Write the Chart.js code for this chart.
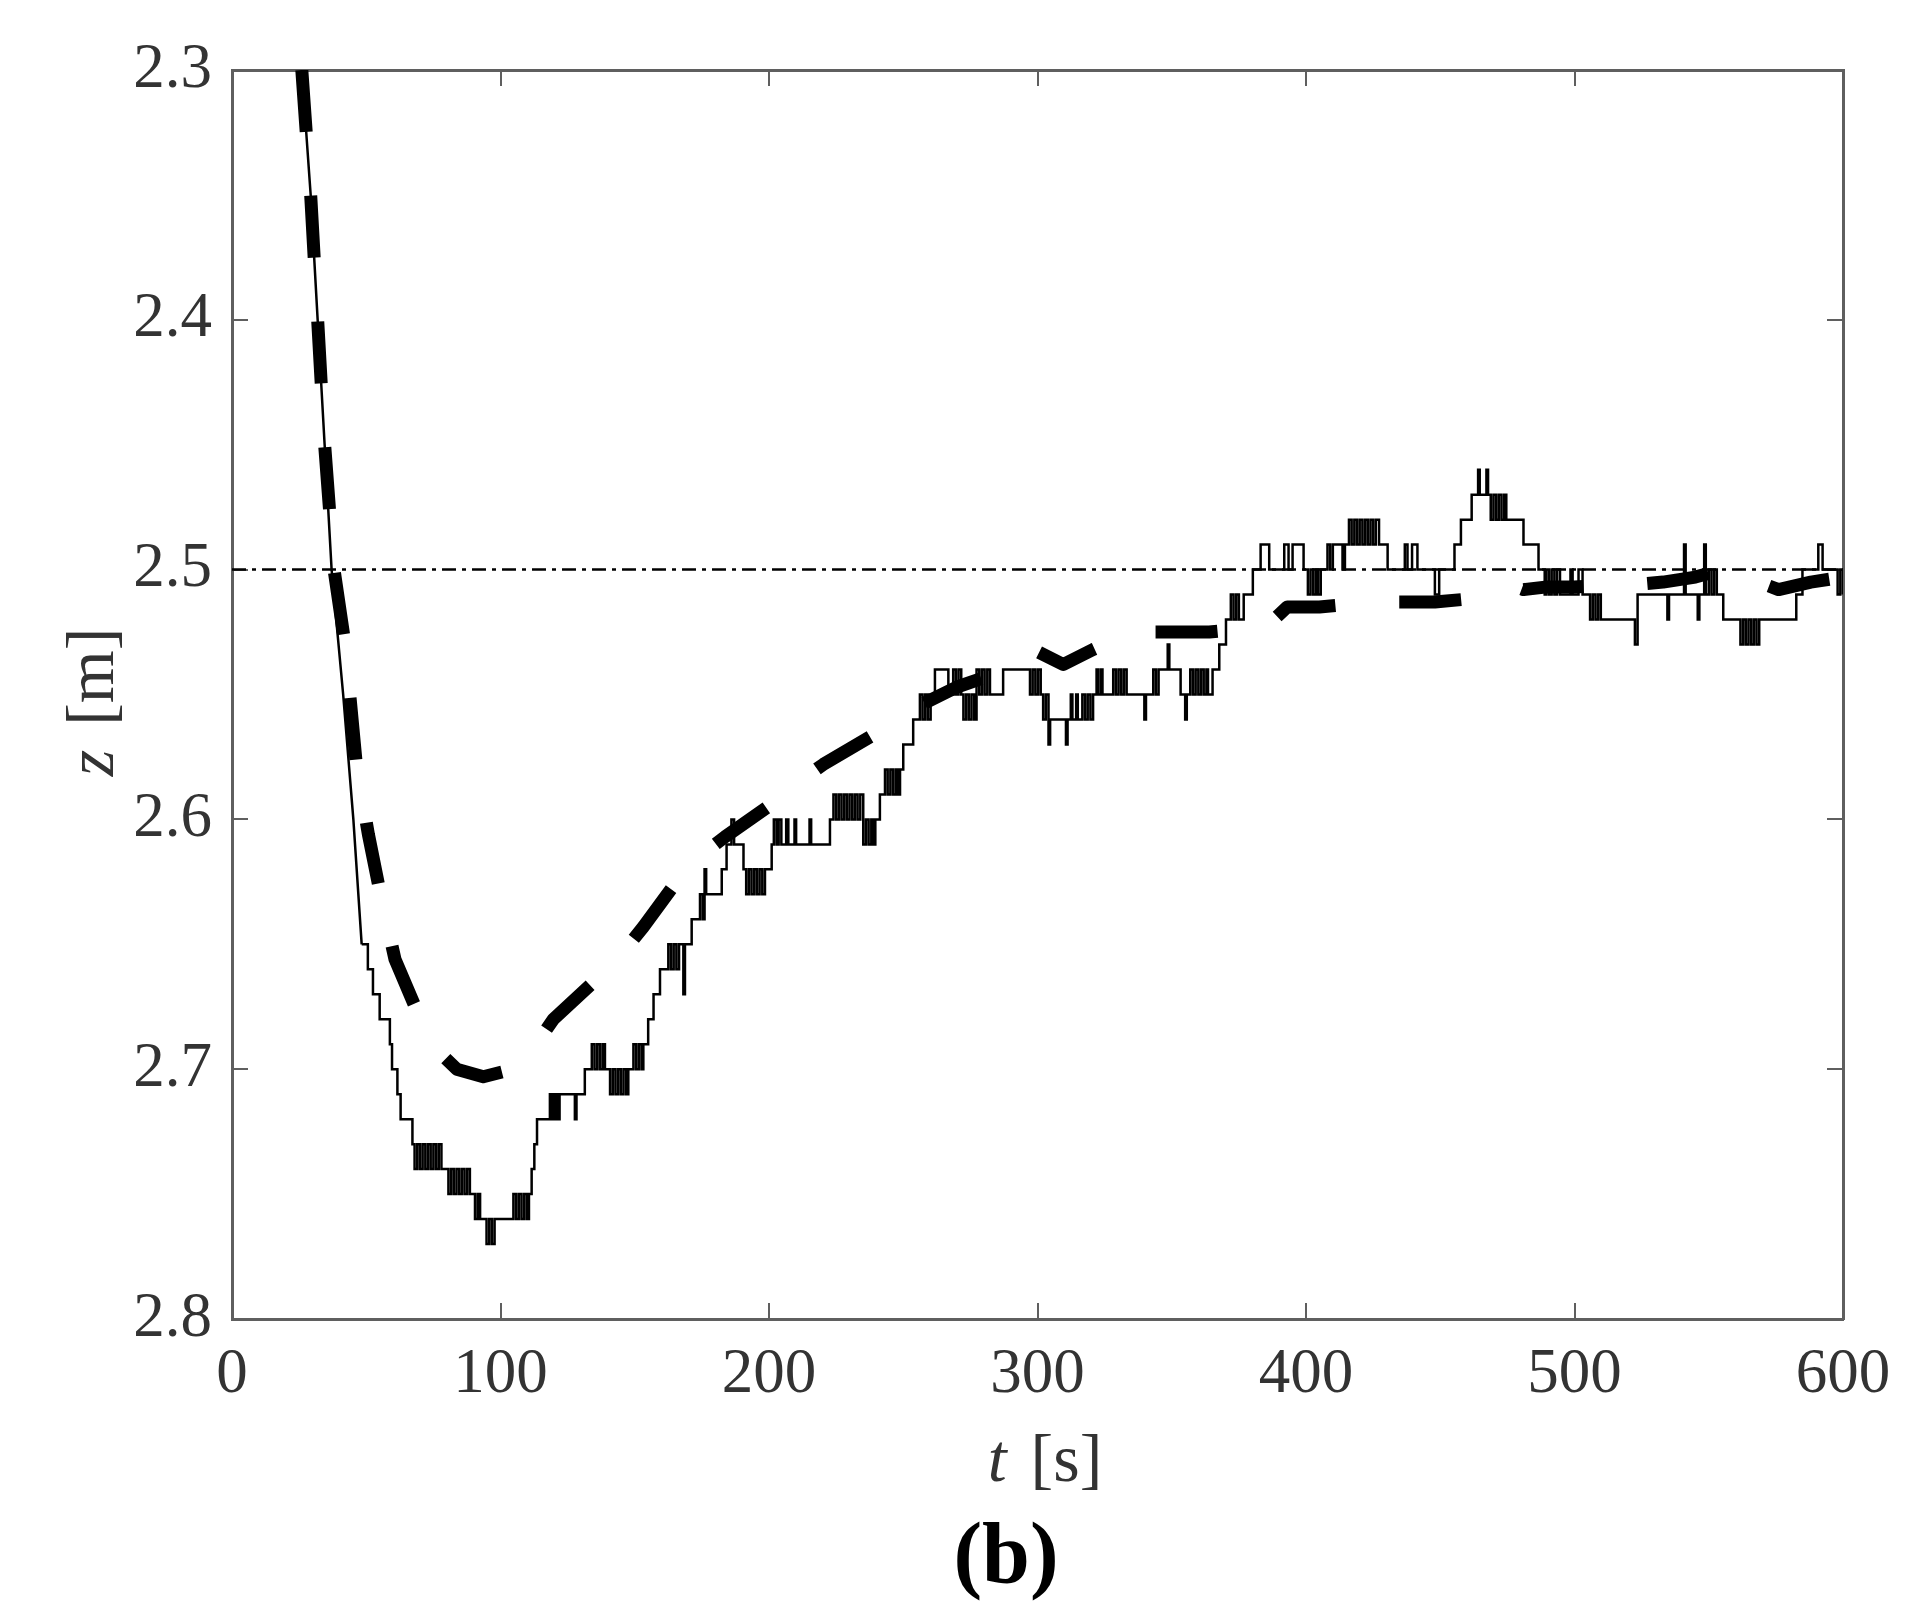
<!DOCTYPE html>
<html>
<head>
<meta charset="utf-8">
<title>z(t)</title>
<script src="https://cdn.jsdelivr.net/npm/chart.js@4.4.1/dist/chart.umd.min.js"></script>
<style>
  body { margin: 0; background: #fff; }
  #wrap { position: relative; width: 1925px; height: 1624px; font-family: "Liberation Serif", "DejaVu Serif", serif; color: #333; }
  #wrap canvas { position: absolute; left: 0; top: 0; }
  .lbl { position: absolute; white-space: nowrap; line-height: 1; }
  #xTitle { left: 945px; top: 1424px; width: 200px; text-align: center; font-size: 68px; }
  #yTitle { left: -10px; top: 668px; width: 200px; text-align: center; font-size: 68px; transform: rotate(-90deg); }
  #caption { left: 906px; top: 1510px; width: 200px; text-align: center; font-size: 86px; font-weight: bold; color: #000; }
  .gap { margin-left: 24px; }
</style>
</head>
<body>
<div id="wrap">
  <canvas id="chart" width="1925" height="1624"></canvas>
  <div class="lbl" id="xTitle"><i>t</i><span class="gap">[s]</span></div>
  <div class="lbl" id="yTitle"><i>z</i><span class="gap">[m]</span></div>
  <div class="lbl" id="caption">(b)</div>
</div>
<script>
// axis ticks
const xTicks = [0, 100, 200, 300, 400, 500, 600];
const yTicks = [2.3, 2.4, 2.5, 2.6, 2.7, 2.8];

// set point (dash-dot line)
const refZ = 2.5;

// measured depth, first fast descent
const descentT = [26.0, 29.3, 31.9, 34.5, 37.1, 41.4, 45.2, 48.3];
const descentZ = [2.30, 2.35, 2.40, 2.45, 2.50, 2.55, 2.60, 2.65];

// measured depth after that, quantized to 1 cm (value holds until next time)
const stepT = [
  48.3, 50.6, 52.5, 55.0, 58.8, 59.6, 61.6, 62.8, 67.2,
  68.0, 69.0, 70.0, 71.0, 72.0, 73.0, 74.0, 75.0, 76.0, 77.0, 78.0,
  80.6, 81.6, 82.6, 83.6, 84.6, 85.6, 86.6, 87.6, 88.6,
  90.5, 91.5, 92.4, 94.8, 95.8, 96.8, 97.8,
  104.8, 105.8, 106.8, 107.8, 108.8, 109.8, 110.6, 111.6, 112.6, 113.6,
  118.4, 119.3, 120.2, 121.1, 122.0, 127.7, 128.3, 131.4,
  134.0, 135.0, 136.0, 137.0, 138.0, 138.9,
  140.8, 141.8, 142.8, 143.8, 144.8, 145.8, 146.8, 147.6,
  149.5, 150.5, 151.5, 152.5, 153.2, 155.0, 157.0, 159.4,
  162.5, 163.5, 164.5, 165.5, 166.5, 168.1, 168.7, 171.2,
  174.3, 175.3, 176.0, 176.6, 182.4, 184.2, 186.0, 187.0,
  190.5, 191.5, 192.5, 193.5, 194.5, 195.5, 196.5, 197.5, 198.5,
  201.0, 201.8, 202.8, 203.6, 204.6, 206.4, 207.2, 209.5, 210.1, 215.1, 215.7,
  222.7, 224.0, 225.0, 226.0, 227.0, 228.0, 229.0, 230.0, 231.0, 232.0, 233.0, 234.0,
  235.1, 236.1, 237.1, 238.1, 239.0, 239.6, 241.3,
  243.2, 244.2, 245.2, 246.2, 247.2, 248.0, 248.8, 250.0, 253.7,
  256.2, 257.2, 258.2, 259.2, 260.2, 261.8, 266.8,
  268.6, 269.6, 270.6, 271.6, 272.4, 273.4, 274.4, 275.4, 276.4,
  277.3, 278.3, 279.3, 280.3, 281.3, 282.3, 287.2,
  297.2, 298.2, 299.2, 300.2, 301.2, 302.1, 303.1, 304.1, 304.7,
  310.6, 311.2, 312.4, 313.0, 314.4, 315.0, 316.7, 317.7, 318.7, 319.7, 320.7,
  322.0, 322.6, 323.6, 324.2, 328.2, 329.2, 330.2, 331.2, 332.2, 333.2,
  339.8, 340.4, 343.1, 344.1, 345.1, 348.5, 349.1, 353.3, 355.0, 355.6,
  356.9, 357.9, 358.9, 359.9, 360.9, 361.9, 362.9, 363.5, 365.2, 367.7,
  370.2, 372.0, 373.0, 374.0, 375.0, 376.8, 380.2,
  383.1, 386.3, 391.9, 393.5, 395.0, 399.1,
  400.7, 401.7, 402.7, 403.7, 404.5, 405.5, 408.0, 409.0, 410.0, 413.6,
  414.5, 416.0, 417.0, 418.0, 419.0, 420.0, 421.0, 422.0, 423.0, 424.0, 425.0, 426.0, 427.2,
  430.4, 436.8, 437.8, 439.5, 441.5, 448.0, 449.6,
  455.3, 457.7, 461.7, 464.1, 464.7, 467.2, 467.8,
  468.8, 469.8, 470.8, 471.8, 472.8, 473.8, 474.6, 481.0, 486.6,
  488.9, 489.5, 490.5, 491.5, 492.5, 493.5, 494.6, 498.5, 499.3, 501.5, 503.0,
  505.8, 506.8, 507.8, 508.8, 509.8, 522.5, 523.5,
  534.6, 535.2, 540.8, 541.4, 545.9, 546.5, 548.3, 548.9,
  550.0, 551.0, 552.0, 553.0, 555.4,
  561.8, 562.8, 563.8, 564.8, 565.8, 566.8, 567.8, 568.8,
  582.6, 584.9, 590.8, 592.4, 598.0, 599.0, 600.0
];
const stepZ = [
  2.65, 2.66, 2.67, 2.68, 2.69, 2.70, 2.71, 2.72, 2.73,
  2.74, 2.73, 2.74, 2.73, 2.74, 2.73, 2.74, 2.73, 2.74, 2.73, 2.74,
  2.75, 2.74, 2.75, 2.74, 2.75, 2.74, 2.75, 2.74, 2.75,
  2.76, 2.75, 2.76, 2.77, 2.76, 2.77, 2.76,
  2.75, 2.76, 2.75, 2.76, 2.75, 2.76, 2.75, 2.74, 2.73, 2.72,
  2.71, 2.72, 2.71, 2.72, 2.71, 2.72, 2.71, 2.70,
  2.69, 2.70, 2.69, 2.70, 2.69, 2.70,
  2.71, 2.70, 2.71, 2.70, 2.71, 2.70, 2.71, 2.70,
  2.69, 2.70, 2.69, 2.70, 2.69, 2.68, 2.67, 2.66,
  2.65, 2.66, 2.65, 2.66, 2.65, 2.67, 2.65, 2.64,
  2.63, 2.64, 2.62, 2.63, 2.62, 2.61, 2.60, 2.61,
  2.62, 2.63, 2.62, 2.63, 2.62, 2.63, 2.62, 2.63, 2.62,
  2.61, 2.60, 2.61, 2.60, 2.61, 2.60, 2.61, 2.60, 2.61, 2.60, 2.61,
  2.60, 2.59, 2.60, 2.59, 2.60, 2.59, 2.60, 2.59, 2.60, 2.59, 2.60, 2.59,
  2.61, 2.60, 2.61, 2.60, 2.61, 2.60, 2.59,
  2.58, 2.59, 2.58, 2.59, 2.58, 2.59, 2.58, 2.57, 2.56,
  2.55, 2.56, 2.55, 2.56, 2.55, 2.54, 2.55,
  2.54, 2.55, 2.54, 2.55, 2.56, 2.55, 2.56, 2.55, 2.56,
  2.54, 2.55, 2.54, 2.55, 2.54, 2.55, 2.54,
  2.55, 2.54, 2.55, 2.54, 2.55, 2.56, 2.55, 2.57, 2.56,
  2.57, 2.56, 2.55, 2.56, 2.55, 2.56, 2.55, 2.56, 2.55, 2.56, 2.55,
  2.54, 2.55, 2.54, 2.55, 2.54, 2.55, 2.54, 2.55, 2.54, 2.55,
  2.56, 2.55, 2.54, 2.55, 2.54, 2.53, 2.54, 2.55, 2.56, 2.55,
  2.54, 2.55, 2.54, 2.55, 2.54, 2.55, 2.54, 2.55, 2.54, 2.53,
  2.52, 2.51, 2.52, 2.51, 2.52, 2.51, 2.50,
  2.49, 2.50, 2.49, 2.50, 2.49, 2.50,
  2.51, 2.50, 2.51, 2.50, 2.51, 2.50, 2.49, 2.50, 2.49, 2.50,
  2.49, 2.48, 2.49, 2.48, 2.49, 2.48, 2.49, 2.48, 2.49, 2.48, 2.49, 2.48, 2.49,
  2.50, 2.49, 2.50, 2.49, 2.50, 2.51, 2.50,
  2.49, 2.48, 2.47, 2.46, 2.47, 2.46, 2.47,
  2.48, 2.47, 2.48, 2.47, 2.48, 2.47, 2.48, 2.49, 2.50,
  2.51, 2.50, 2.51, 2.50, 2.51, 2.50, 2.51, 2.50, 2.51, 2.50, 2.51,
  2.52, 2.51, 2.52, 2.51, 2.52, 2.53, 2.51,
  2.52, 2.51, 2.49, 2.51, 2.52, 2.51, 2.49, 2.51,
  2.50, 2.51, 2.50, 2.51, 2.52,
  2.53, 2.52, 2.53, 2.52, 2.53, 2.52, 2.53, 2.52,
  2.51, 2.50, 2.49, 2.50, 2.51, 2.50, 2.51
];

// estimated depth (thick dashed line)
const estT = [
  26.0, 29.3, 31.9, 34.5, 36.6, 38.0, 42.1, 46.3, 50.8, 55.1, 60.7, 69.4, 76.0,
  83.7, 93.6, 104.8, 112.0, 119.7, 135.8, 145.0, 153.2, 166.2, 175.0, 183.6,
  202.2, 211.0, 220.2, 240.7, 248.0, 255.0, 270.0, 283.5, 292.0, 300.3, 309.6,
  320.7, 331.0, 342.0, 353.0, 364.0, 374.0, 385.0, 393.0, 405.0, 415.0, 425.6,
  437.0, 448.0, 458.0, 468.0, 476.0, 481.0, 489.0, 500.0, 512.0, 522.0, 533.0,
  545.0, 555.0, 566.0, 576.0, 588.0, 600.0
];
const estZ = [
  2.300, 2.350, 2.400, 2.450, 2.480, 2.500, 2.530, 2.578, 2.606, 2.629, 2.656, 2.678, 2.692,
  2.700, 2.703, 2.700, 2.692, 2.680, 2.664, 2.654, 2.643, 2.624, 2.614, 2.607,
  2.593, 2.585, 2.578, 2.565, 2.560, 2.555, 2.547, 2.542, 2.537, 2.533, 2.538,
  2.532, 2.527, 2.525, 2.525, 2.525, 2.524, 2.523, 2.515, 2.515, 2.514, 2.513,
  2.513, 2.513, 2.512, 2.510, 2.506, 2.508, 2.507, 2.507, 2.506, 2.506, 2.505,
  2.503, 2.500, 2.504, 2.508, 2.505, 2.503
];

const serif = '"Liberation Serif", "DejaVu Serif", serif';
const axisGray = '#5f5f5f';
const labelGray = '#333';

const pts = (ts, zs) => ts.map((t, i) => ({ x: t, y: zs[i] }));

// one side of the box: border plus inward ticks
function side(position, min, max, ticks, extra) {
  const horizontal = position === 'top' || position === 'bottom';
  return Object.assign({
    type: 'linear',
    position: position,
    min: min,
    max: max,
    reverse: !horizontal,
    afterBuildTicks: s => { s.ticks = ticks.map(v => ({ value: v })); },
    grid: { drawOnChartArea: false, drawTicks: true, tickLength: -16, color: axisGray, lineWidth: 2 },
    border: { display: true, color: axisGray, width: 3 },
    ticks: { display: false },
    afterFit: s => {
      if (horizontal) s.height = 0; else s.width = 0;
      s.paddingLeft = 0; s.paddingRight = 0; s.paddingTop = 0; s.paddingBottom = 0;
    }
  }, extra || {});
}

new Chart(document.getElementById('chart'), {
  type: 'line',
  data: {
    datasets: [
      {
        data: pts(descentT, descentZ),
        borderColor: '#000', borderWidth: 2.5, pointRadius: 0
      },
      {
        data: pts(stepT, stepZ),
        stepped: true,
        borderColor: '#000', borderWidth: 2.5, pointRadius: 0
      },
      {
        data: pts(estT, estZ),
        borderColor: '#000', borderWidth: 13, borderDash: [62, 64],
        borderCapStyle: 'butt', borderJoinStyle: 'round', pointRadius: 0
      },
      {
        data: [{ x: xTicks[0], y: refZ }, { x: xTicks[xTicks.length - 1], y: refZ }],
        borderColor: '#000', borderWidth: 2.5, borderDash: [14, 6, 4, 6], pointRadius: 0
      }
    ]
  },
  options: {
    responsive: false,
    animation: false,
    events: [],
    layout: { padding: { top: 70, right: 82, bottom: 0, left: 0 } },
    plugins: { legend: { display: false }, tooltip: { enabled: false } },
    scales: {
      x: side('bottom', 0, 600, xTicks, {
        ticks: { display: true, font: { family: serif, size: 63 }, color: labelGray, padding: 35, maxRotation: 0, autoSkip: false },
        afterFit: s => { s.height = 305; s.paddingLeft = 0; s.paddingRight = 0; }
      }),
      y: side('left', 2.3, 2.8, yTicks, {
        ticks: { display: true, font: { family: serif, size: 63 }, color: labelGray, padding: 36, autoSkip: false, callback: v => v.toFixed(1) },
        afterFit: s => { s.width = 232; s.paddingTop = 0; s.paddingBottom = 0; }
      }),
      x2: side('top', 0, 600, xTicks),
      y2: side('right', 2.3, 2.8, yTicks)
    }
  }
});
</script>
</body>
</html>
